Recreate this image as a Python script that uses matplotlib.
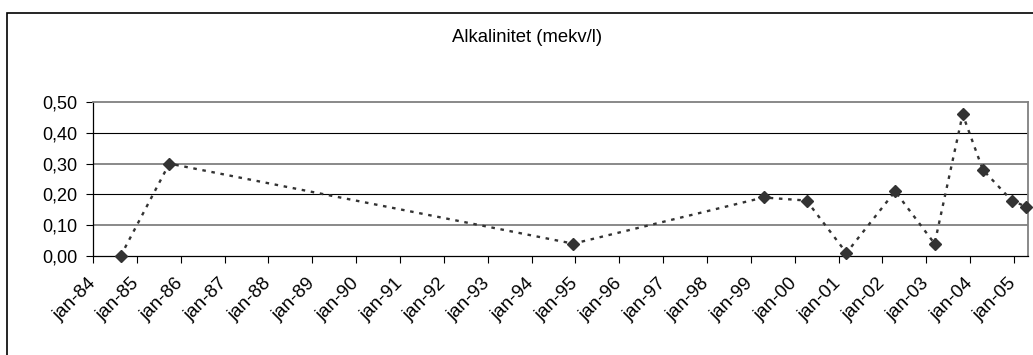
import matplotlib
matplotlib.use("Agg")
import matplotlib.pyplot as plt
from matplotlib.patches import Rectangle
from matplotlib.ticker import FuncFormatter, FixedLocator

plt.rcParams['font.family'] = ['Liberation Sans', 'DejaVu Sans']

# sample dates as decimal years
dates = [1984.63, 1985.74, 1994.95, 1999.29, 2000.27, 2001.18, 2002.29,
         2003.19, 2003.83, 2004.29, 2004.95, 2005.28]
alkalinitet = [0.00, 0.30, 0.04, 0.19, 0.18, 0.01, 0.21, 0.04, 0.46, 0.28, 0.18, 0.16]

year_ticks = list(range(1984, 2006))
year_labels = ["jan-%02d" % (y % 100) for y in year_ticks]
y_ticks = [0.0, 0.1, 0.2, 0.3, 0.4, 0.5]
title = "Alkalinitet (mekv/l)"

W, H = 1033, 355
fig = plt.figure(figsize=(W / 100, H / 100), dpi=100)
ax = fig.add_axes([93 / W, 1 - 256 / H, (1028 - 93) / W, (256 - 102) / H])

# outer chart frame
fig.patches.append(Rectangle((7 / W, -0.1), 2.0, (1 - 13 / H) + 0.1,
                             transform=fig.transFigure, fill=False,
                             edgecolor='black', linewidth=1.2))

ax.plot(dates, alkalinitet, color='#333333', linestyle=(0, (1.5, 2.4)),
        linewidth=1.7, marker='D', markersize=6.5, markerfacecolor='#333333',
        markeredgecolor='#333333', clip_on=False, zorder=3)

ax.set_xlim(1984.0, 2005.32)
ax.set_ylim(0, 0.5)
ax.xaxis.set_major_locator(FixedLocator(year_ticks))
ax.set_xticklabels(year_labels, rotation=45, ha='right', va='center',
                   rotation_mode='anchor', fontsize=13.5)
ax.yaxis.set_major_locator(FixedLocator(y_ticks))
ax.yaxis.set_major_formatter(FuncFormatter(lambda v, p: ("%.2f" % v).replace('.', ',')))
ax.tick_params(axis='y', labelsize=13, length=5, width=0.8, color='black', pad=6.5)
ax.tick_params(axis='x', length=5, width=0.8, color='black', pad=13)

grid_style = {0.1: ('#808080', 1.3), 0.2: ('black', 0.8),
              0.3: ('#808080', 1.3), 0.4: ('black', 0.8)}
for v, (c, lw) in grid_style.items():
    ax.axhline(v, color=c, linewidth=lw, zorder=1)

for s in ['top', 'right']:
    ax.spines[s].set_color('#808080')
    ax.spines[s].set_linewidth(1.3)
for s in ['left', 'bottom']:
    ax.spines[s].set_color('black')
    ax.spines[s].set_linewidth(0.9)

fig.text(527 / W, 1 - 37 / H, title, ha='center', va='center', fontsize=13.3)

fig.savefig("out.png", dpi=100)
